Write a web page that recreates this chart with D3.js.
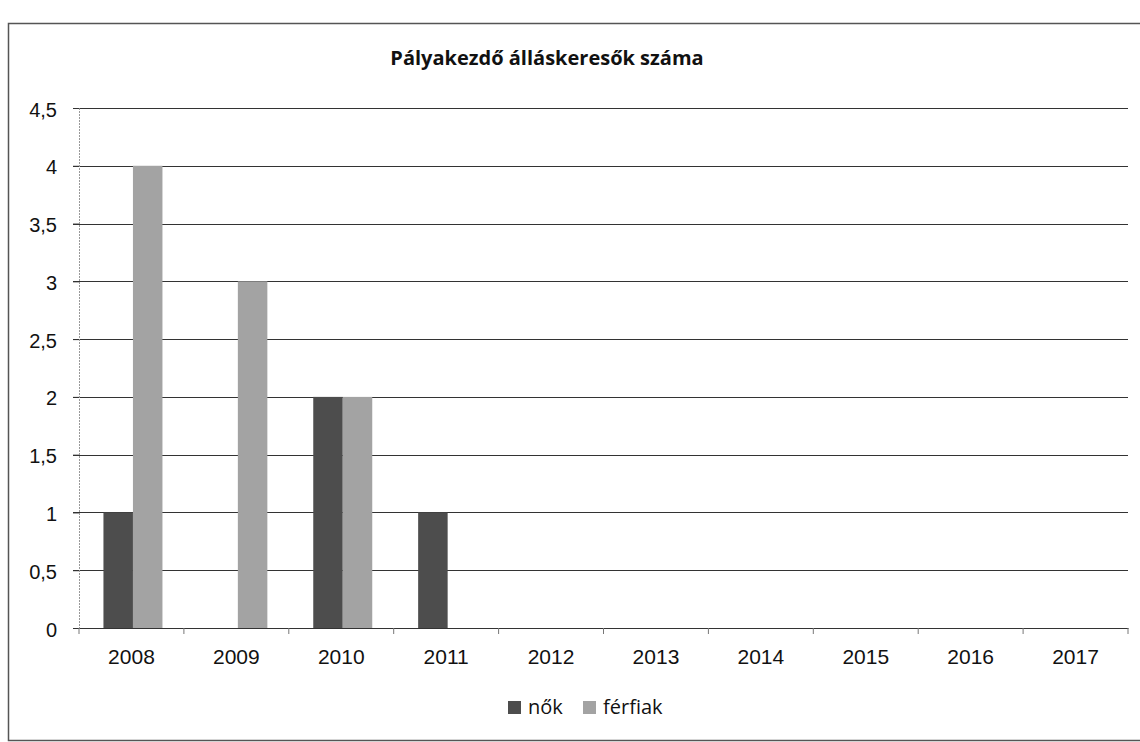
<!DOCTYPE html>
<html>
<head>
<meta charset="utf-8">
<script src="https://cdn.jsdelivr.net/npm/d3@7"></script>
<style>
  body { margin: 0; background: #fff; }
  svg { font-family: "Open Sans", Lato, sans-serif; }
</style>
</head>
<body>
<div class="chart"></div>
<script>
// chart data
const YEARS = ["2008", "2009", "2010", "2011", "2012", "2013", "2014", "2015", "2016", "2017"];
const NOK = [1, 0, 2, 1, 0, 0, 0, 0, 0, 0];
const FERFIAK = [4, 3, 2, 0, 0, 0, 0, 0, 0, 0];
const SERIES = ["nők", "férfiak"];
const Y_TICKS = [0, 0.5, 1, 1.5, 2, 2.5, 3, 3.5, 4, 4.5];

// page size
const WIDTH = 1140;
const HEIGHT = 742;
const PLOT = { left: 79, right: 1128, top: 108, bottom: 628 };
const COLORS = ["#4d4d4d", "#a3a3a3"];

const svg = d3
  .select(".chart")
  .append("svg")
  .attr("width", WIDTH)
  .attr("height", HEIGHT);

// outer frame
svg
  .append("rect")
  .attr("x", 8.5)
  .attr("y", 23.5)
  .attr("width", 1140)
  .attr("height", 717)
  .attr("fill", "none")
  .attr("stroke", "#555")
  .attr("stroke-width", 1.5);

// title
svg
  .append("text")
  .attr("x", 547)
  .attr("y", 65)
  .attr("text-anchor", "middle")
  .attr("font-size", 20)
  .attr("font-weight", "bold")
  .attr("fill", "#111")
  .text("Pályakezdő álláskeresők száma");

// scales
const x = d3.scaleBand().domain(YEARS).range([PLOT.left, PLOT.right]).paddingInner(0).paddingOuter(0);
const xInner = d3.scaleBand().domain(SERIES).range([0, 59]);
const y = d3.scaleLinear().domain([0, 4.5]).range([PLOT.bottom, PLOT.top]);

// gridlines
svg
  .append("g")
  .selectAll("line")
  .data(Y_TICKS.filter((d) => d > 0))
  .enter()
  .append("line")
  .attr("x1", PLOT.left - 6)
  .attr("x2", PLOT.right)
  .attr("y1", (d) => Math.round(y(d)) + 0.5)
  .attr("y2", (d) => Math.round(y(d)) + 0.5)
  .attr("stroke", "#333")
  .attr("stroke-width", 1.2);

// y axis
const yAxis = svg
  .append("g")
  .attr("transform", `translate(${PLOT.left},0)`)
  .call(
    d3
      .axisLeft(y)
      .tickValues(Y_TICKS)
      .tickSize(6)
      .tickPadding(16)
      .tickFormat((d) => String(d).replace(".", ","))
  );
yAxis.select(".domain").attr("stroke", "#999").attr("stroke-dasharray", "2,1");
yAxis.selectAll(".tick line").attr("stroke", "#333");
yAxis.selectAll("text").attr("font-size", 20).attr("fill", "#111").attr("dy", "0.4em");

// bars
const groups = svg
  .append("g")
  .selectAll("g")
  .data(YEARS.map((d, i) => ({ year: d, vals: [NOK[i], FERFIAK[i]] })))
  .enter()
  .append("g")
  .attr("transform", (d) => `translate(${x(d.year) + x.bandwidth() / 2 - 28},0)`);

groups
  .selectAll("rect")
  .data((d) => d.vals.map((v, i) => ({ key: SERIES[i], v: v, i: i })))
  .enter()
  .filter((d) => d.v > 0)
  .append("rect")
  .attr("x", (d) => xInner(d.key))
  .attr("width", xInner.bandwidth())
  .attr("y", (d) => y(d.v))
  .attr("height", (d) => y(0) - y(d.v))
  .attr("fill", (d) => COLORS[d.i]);

// x axis
const xAxis = svg
  .append("g")
  .attr("transform", `translate(0,${PLOT.bottom})`)
  .call(d3.axisBottom(x).tickSize(0).tickPadding(21));
xAxis.select(".domain").attr("stroke", "#333").attr("stroke-width", 1.2);
xAxis.selectAll("text").attr("font-size", 21).attr("fill", "#111");

// category separator ticks
svg
  .append("g")
  .selectAll("line")
  .data(d3.range(YEARS.length + 1))
  .enter()
  .append("line")
  .attr("x1", (i) => PLOT.left + i * x.step())
  .attr("x2", (i) => PLOT.left + i * x.step())
  .attr("y1", PLOT.bottom)
  .attr("y2", PLOT.bottom + 6)
  .attr("stroke", "#777");

// legend
const legend = svg.append("g").attr("transform", "translate(508,714)");
const items = [
  { label: SERIES[0], dx: 0 },
  { label: SERIES[1], dx: 75 }
];
items.forEach((it, i) => {
  legend
    .append("rect")
    .attr("x", it.dx)
    .attr("y", -13)
    .attr("width", 13)
    .attr("height", 13)
    .attr("fill", COLORS[i]);
  legend
    .append("text")
    .attr("x", it.dx + 20)
    .attr("y", 0)
    .attr("font-size", 20)
    .attr("fill", "#111")
    .text(it.label);
});
</script>
</body>
</html>
